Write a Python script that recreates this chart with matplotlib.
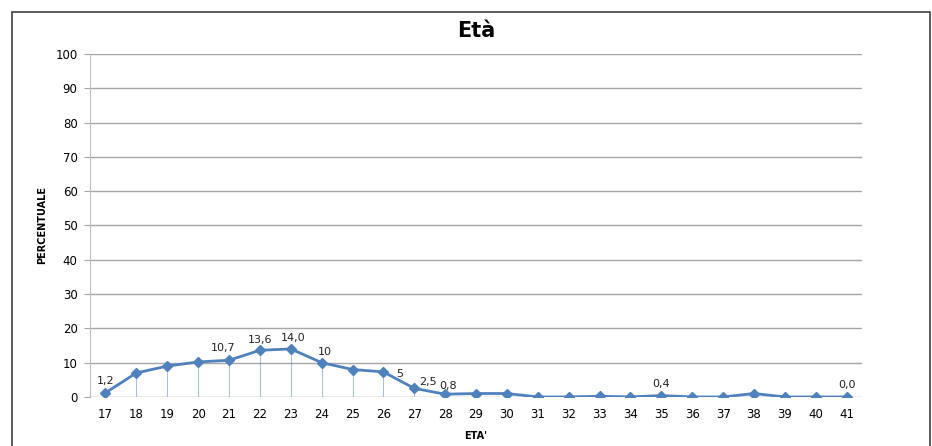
import matplotlib.pyplot as plt
from matplotlib.patches import Rectangle

# data
eta = [str(a) for a in range(17, 42)]
percentuale = [1.2, 7.0, 9.0, 10.2, 10.7, 13.6, 14.0, 10.0, 8.0, 7.3, 2.5, 0.8, 1.0, 1.0,
               0.0, 0.0, 0.2, 0.0, 0.4, 0.0, 0.0, 1.0, 0.0, 0.0, 0.0]
# labels shown on the chart (index -> text, offset in points)
etichette = {0: ('1,2', (0, 5)), 4: ('10,7', (-4, 5)), 5: ('13,6', (0, 4)), 6: ('14,0', (2, 4)),
             7: ('10', (2, 4)), 9: ('5', (12, -5)), 10: ('2,5', (10, 1)), 11: ('0,8', (2, 2)),
             18: ('0,4', (0, 5)), 24: ('0,0', (0, 5))}

blu = '#4F81BD'
fig = plt.figure(figsize=(9.32, 4.46), dpi=100)
ax = fig.add_axes([0.0966, 0.110, 0.8284, 0.769])

x = list(range(len(eta)))
ax.vlines(x, 0, percentuale, color=blu, lw=0.6, alpha=0.6, zorder=2)
ax.plot(x, percentuale, color=blu, lw=2, marker='D', ms=5.5, zorder=3)

for i, (txt, off) in etichette.items():
    ax.annotate(txt, (i, percentuale[i]), xytext=off, textcoords='offset points',
                ha='center', va='bottom', fontsize=8, color='#222222')

ax.set_xlim(-0.5, len(eta) - 0.5)
ax.set_ylim(0, 100)
ax.set_yticks(range(0, 101, 10))
ax.set_xticks(x)
ax.set_xticklabels(eta)
ax.yaxis.grid(True, color='#A6A6A6', lw=1)
ax.set_axisbelow(True)
for s in ['top', 'right', 'bottom']:
    ax.spines[s].set_visible(False)
ax.spines['left'].set_color('#BFBFBF')
ax.tick_params(axis='y', length=4, color='#A6A6A6', labelsize=8.5, pad=5)
ax.tick_params(axis='x', length=0, labelsize=8.5, pad=8)

ax.set_title('Età', fontsize=15, fontweight='bold', pad=12)
ax.set_ylabel('PERCENTUALE', fontsize=7, fontweight='bold', labelpad=6)
ax.set_xlabel("ETA'", fontsize=7, fontweight='bold', labelpad=7)

# outer frame of the chart
fig.patches.append(Rectangle((12 / 932, -0.1), 918 / 932, 1.1 - 12 / 446, transform=fig.transFigure,
                             fill=False, edgecolor='#404040', lw=1.2))

plt.savefig('out.png', dpi=100)
